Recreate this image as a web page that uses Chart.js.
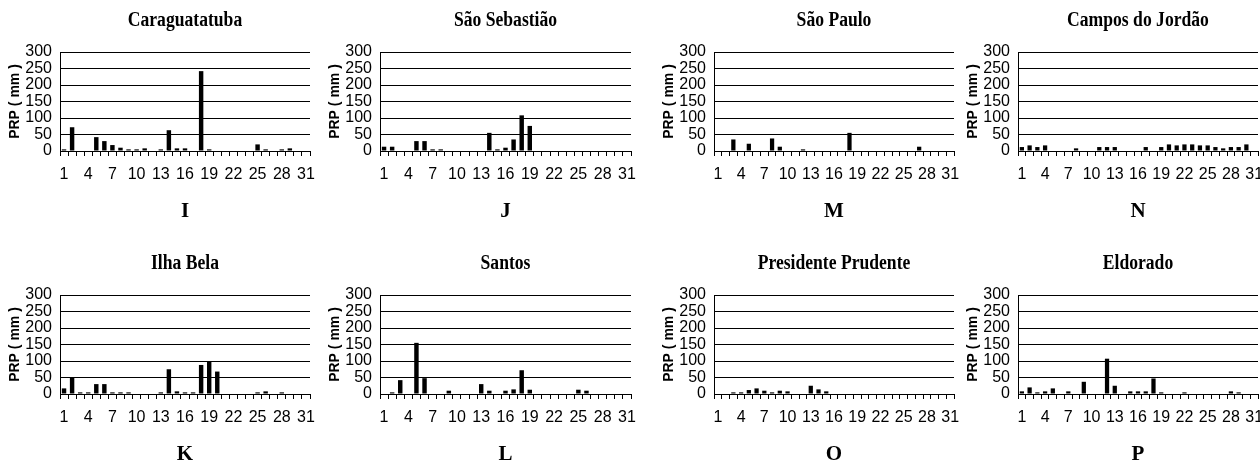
<!DOCTYPE html>
<html lang="pt">
<head>
    <meta charset="UTF-8" />
    <title>PRP diária - estações</title>
    <script src="https://cdn.jsdelivr.net/npm/chart.js"></script>
    <style>
        html, body { margin: 0; padding: 0; background: #fff; }
        body { width: 1260px; height: 467px; position: relative; overflow: hidden; }
        .panel { position: absolute; height: 224px; }
    </style>
</head>
<body>
    <div class="panel" id="p0"><canvas id="c0"></canvas></div>
    <div class="panel" id="p1"><canvas id="c1"></canvas></div>
    <div class="panel" id="p2"><canvas id="c2"></canvas></div>
    <div class="panel" id="p3"><canvas id="c3"></canvas></div>
    <div class="panel" id="p4"><canvas id="c4"></canvas></div>
    <div class="panel" id="p5"><canvas id="c5"></canvas></div>
    <div class="panel" id="p6"><canvas id="c6"></canvas></div>
    <div class="panel" id="p7"><canvas id="c7"></canvas></div>

    <script>
        // dias do mes
        const days = ['1','2','3','4','5','6','7','8','9','10','11','12','13','14','15','16',
                      '17','18','19','20','21','22','23','24','25','26','27','28','29','30','31'];
        const yTicks = [0, 50, 100, 150, 200, 250, 300];

        // PRP (mm) por dia
        const caraguatatuba      = [5,72,0,0,42,30,18,10,5,5,8,0,5,63,8,8,0,242,5,0,0,0,0,0,20,5,0,5,8,0,0];
        const saoSebastiao       = [13,13,0,0,30,30,5,5,0,0,0,0,0,55,5,10,35,108,76,0,0,0,0,0,0,0,0,0,0,0,0];
        const saoPaulo           = [0,0,35,0,22,0,0,38,13,0,0,5,0,0,0,0,0,55,0,0,0,0,0,0,0,0,13,0,0,0,0];
        const camposDoJordao     = [12,17,12,17,0,0,0,8,0,0,12,12,12,0,0,0,12,0,12,20,17,20,20,17,17,12,8,12,12,20,0];
        const ilhaBela           = [17,50,5,5,30,30,5,5,5,0,0,0,5,75,8,5,5,88,98,68,0,0,0,0,5,8,0,5,0,0,0];
        const santos             = [0,5,42,0,155,48,0,0,10,0,0,0,30,10,0,10,14,72,13,0,0,0,0,0,13,10,0,0,0,0,0];
        const presidentePrudente = [0,0,5,5,12,17,10,5,10,8,0,0,25,14,8,0,0,0,0,0,0,0,0,0,0,0,0,0,0,0,0];
        const eldorado           = [8,20,5,8,17,0,8,0,37,0,0,107,25,0,8,8,8,47,5,0,0,5,0,0,0,0,0,8,5,0,0];

        const titles  = ['Caraguatatuba', 'São Sebastião', 'São Paulo', 'Campos do Jordão',
                         'Ilha Bela', 'Santos', 'Presidente Prudente', 'Eldorado'];
        const letters = ['I', 'J', 'M', 'N', 'K', 'L', 'O', 'P'];
        const series  = [caraguatatuba, saoSebastiao, saoPaulo, camposDoJordao,
                         ilhaBela, santos, presidentePrudente, eldorado];

        // plot left / right edge of each panel, and row tops
        const plotEdges = [[60, 310], [380, 631], [714, 954], [1018, 1258]];
        const rowTops = [0, 243];
        const Y_AXIS_W = 56;
        const RIGHT_PAD = 8;   // room for the "31" label past the plot edge

        // city name centred over the plot area, slightly condensed like the source
        const panelTitle = {
            id: 'panelTitle',
            afterDraw(chart, args, opts) {
                const { ctx, chartArea } = chart;
                const cx = (chartArea.left + chartArea.right) / 2;
                ctx.save();
                ctx.translate(cx, opts.y);
                ctx.scale(0.88, 1);
                ctx.font = 'bold 20px "Liberation Serif", "DejaVu Serif", serif';
                ctx.fillStyle = '#000';
                ctx.textAlign = 'center';
                ctx.textBaseline = 'middle';
                ctx.fillText(opts.text, 0, 0);
                ctx.restore();
            }
        };

        const tickFont = { family: '"Liberation Sans Narrow", "Arial Narrow", "Liberation Sans", Arial, sans-serif', size: 16 };

        function makeChart(i) {
            const col = i % 4, row = Math.floor(i / 4);
            const [pl, pr] = plotEdges[col];
            const box = document.getElementById('p' + i);
            box.style.left = (pl - Y_AXIS_W) + 'px';
            box.style.top = rowTops[row] + 'px';
            box.style.width = (pr - pl + Y_AXIS_W + RIGHT_PAD) + 'px';

            return new Chart(document.getElementById('c' + i), {
                type: 'bar',
                data: {
                    labels: days,
                    datasets: [{
                        data: series[i],
                        backgroundColor: '#000',
                        borderWidth: 0,
                        categoryPercentage: 1,
                        barPercentage: 0.55
                    }]
                },
                plugins: [panelTitle],
                options: {
                    responsive: true,
                    maintainAspectRatio: false,
                    animation: false,
                    layout: { padding: { top: 52, left: 0, right: RIGHT_PAD, bottom: 0 } },
                    plugins: {
                        legend: { display: false },
                        tooltip: { enabled: false },
                        title: { display: false },
                        panelTitle: { text: titles[i], y: 21 }
                    },
                    scales: {
                        x: {
                            grid: { display: true, drawOnChartArea: false, drawTicks: true, tickLength: 5, color: '#000', offset: true },
                            border: { display: true, color: '#000', width: 1 },
                            ticks: {
                                autoSkip: false,
                                maxRotation: 0,
                                color: '#000',
                                padding: 9,
                                font: tickFont,
                                callback: function (val, idx) {
                                    return idx % 3 === 0 ? this.getLabelForValue(val) : '';
                                }
                            },
                            title: {
                                display: true,
                                text: letters[i],
                                color: '#000',
                                font: { family: '"Liberation Serif", "DejaVu Serif", serif', size: 21, weight: 'bold' },
                                padding: { top: 0, bottom: 0 }
                            },
                            afterFit: s => {
                                s.height = 73;
                                // plot edges fixed by the panel box, not by label widths
                                s.paddingLeft = 0;
                                s.paddingRight = 0;
                            }
                        },
                        y: {
                            min: 0,
                            max: 300,
                            afterBuildTicks: s => { s.ticks = yTicks.map(v => ({ value: v })); },
                            ticks: { autoSkip: false, color: '#000', padding: 8, font: tickFont },
                            grid: { color: '#000', lineWidth: 1, drawTicks: false },
                            border: { display: true, color: '#000', width: 1 },
                            title: {
                                display: true,
                                text: 'PRP ( mm )',
                                color: '#000',
                                font: { family: '"Liberation Sans", Arial, sans-serif', size: 14, weight: 'bold' },
                                padding: { top: 3, bottom: 0 }
                            },
                            afterFit: s => { s.width = Y_AXIS_W; }
                        }
                    }
                }
            });
        }

        for (let i = 0; i < 8; i++) makeChart(i);
    </script>
</body>
</html>
